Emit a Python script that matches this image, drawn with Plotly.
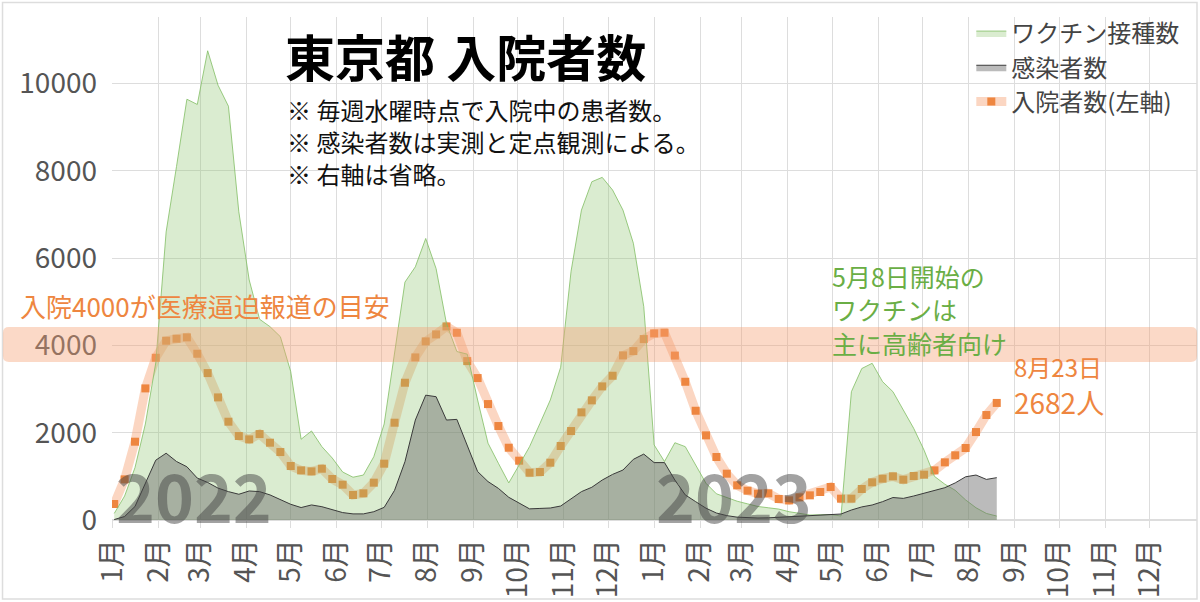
import datetime
import plotly.graph_objects as go

# weekly points (Sunday-dated as plotted in the reference)
start = datetime.date(2022, 1, 2)
weeks = [start + datetime.timedelta(days=7 * i) for i in range(86)]

# 入院者数 (left axis)
hospitalized = [366, 931, 1794, 3015, 3717, 4107, 4153, 4184, 3809, 3366,
                2809, 2252, 1924, 1847, 1969, 1771, 1557, 1237, 1137, 1114,
                1175, 939, 809, 573, 611, 855, 1290, 2229, 3145, 3725,
                4092, 4252, 4435, 4290, 3641, 3252, 2656, 2153, 1656, 1359,
                1084, 1099, 1313, 1695, 2038, 2466, 2741, 3061, 3305, 3771,
                3870, 4145, 4275, 4290, 3767, 3167, 2503, 1939, 1443, 1061,
                794, 672, 603, 611, 481, 450, 519, 565, 641, 756,
                489, 489, 710, 863, 947, 1000, 924, 1008, 1038, 1137,
                1321, 1482, 1649, 2015, 2405, 2682]

# 感染者数 (right axis, hidden; relative scale)
infections = [10, 80, 310, 840, 1370, 1530, 1340, 1220, 960, 860,
              730, 650, 590, 665, 650, 575, 460, 360, 285, 345,
              305, 230, 170, 140, 140, 190, 290, 680, 1335, 2290,
              2860, 2825, 2290, 2305, 1720, 1110, 880, 725, 520, 380,
              255, 265, 275, 320, 495, 650, 750, 915, 1045, 1145,
              1390, 1510, 1315, 1315, 915, 575, 420, 270, 160, 100,
              65, 50, 46, 50, 60, 75, 90, 100, 115, 125,
              137, 229, 300, 344, 420, 515, 495, 550, 610, 680,
              740, 850, 990, 1030, 930, 970]

# ワクチン接種数 (right axis, hidden; relative scale)
vaccinations = [150, 550, 1200, 2200, 3600, 6600, 8100, 9640, 9520, 10750,
                9960, 9480, 7060, 5500, 4600, 4430, 4200, 3400, 1850, 2040,
                1680, 1420, 1100, 980, 1030, 1450, 2200, 3850, 5450, 5800,
                6450, 5760, 4500, 3860, 3800, 2750, 1760, 1300, 850, 1260,
                1680, 2210, 2750, 3500, 5700, 7100, 7750, 7850, 7560, 7100,
                6340, 4890, 1720, 1340, 1770, 1680, 1250, 840, 600, 510,
                430, 370, 310, 280, 250, 190, 150, 115, 120, 125,
                92, 2940, 3470, 3590, 3170, 2940, 2520, 2100, 1600, 1000,
                820, 680, 460, 280, 150, 90]

month_ticks = [datetime.date(2022 + m // 12, m % 12 + 1, 1) for m in range(24)]
month_labels = [f"{d.month}月" for d in month_ticks]

FONT = "Noto Sans CJK JP"
ORANGE = "#EE8640"
GREEN_TXT = "#6AAE45"

fig = go.Figure()

fig.add_trace(go.Scatter(
    x=weeks, y=vaccinations, name="ワクチン接種数", yaxis="y2",
    mode="lines", fill="tozeroy",
    line=dict(color="rgba(130,190,100,0.8)", width=1),
    fillcolor="rgba(140,195,110,0.32)"))

fig.add_trace(go.Scatter(
    x=weeks, y=infections, name="感染者数", yaxis="y2",
    mode="lines", fill="tozeroy",
    line=dict(color="#3a3a3a", width=1),
    fillcolor="rgba(105,105,105,0.45)"))

fig.add_trace(go.Scatter(
    x=weeks, y=hospitalized, name="入院者数(左軸)",
    mode="lines+markers",
    line=dict(color="rgba(246,165,120,0.45)", width=9),
    marker=dict(symbol="square", size=8, color=ORANGE)))

# 4000 band with rounded corners (paper x, data y)
x0, x1, y0, y1 = -0.1005, 1.0, 3620, 4420
rx, ry = 6 / 1085, 137
band = (f"M {x0 + rx},{y0} L {x1 - rx},{y0} Q {x1},{y0} {x1},{y0 + ry} "
        f"L {x1},{y1 - ry} Q {x1},{y1} {x1 - rx},{y1} L {x0 + rx},{y1} "
        f"Q {x0},{y1} {x0},{y1 - ry} L {x0},{y0 + ry} Q {x0},{y0} {x0 + rx},{y0} Z")
fig.add_shape(type="path", path=band, xref="paper", yref="y",
              fillcolor="rgba(244,160,115,0.4)", line=dict(width=0), layer="above")

# outer frame
fig.add_shape(type="rect", xref="paper", yref="paper",
              x0=-0.1009, x1=1.0, y0=-0.157, y1=1.029,
              line=dict(color="#dddddd", width=1.5), layer="below")


def note(text, x, y, size, color, anchor="left"):
    fig.add_annotation(text=text, x=x, y=y, xref="paper", yref="paper",
                       showarrow=False, xanchor=anchor, yanchor="middle",
                       align="left", font=dict(family=FONT, size=size, color=color))


note("<b>東京都 入院者数</b>", 0.1576, 0.925, 50, "#000000")
note("※ 毎週水曜時点で入院中の患者数。", 0.1594, 0.817, 24, "#111111")
note("※ 感染者数は実測と定点観測による。", 0.1594, 0.7515, 24, "#111111")
note("※ 右軸は省略。", 0.1594, 0.6898, 24, "#111111")
note("入院4000が医療逼迫報道の目安", -0.0866, 0.4274, 26, ORANGE)
note("5月8日開始の", 0.6618, 0.4845, 25, GREEN_TXT)
note("ワクチンは", 0.6618, 0.4185, 25, GREEN_TXT)
note("主に高齢者向け", 0.6618, 0.3525, 25, GREEN_TXT)
note("8月23日", 0.8295, 0.306, 24, ORANGE)
note("2682人", 0.8295, 0.2350, 28, ORANGE)
note("<b>2022</b>", 0.0756, 0.0517, 66, "rgba(70,70,70,0.5)", anchor="center")
note("<b>2023</b>", 0.5733, 0.0517, 66, "rgba(70,70,70,0.5)", anchor="center")

fig.update_layout(
    width=1200, height=602,
    margin=dict(l=112, r=3, t=17, b=82),
    paper_bgcolor="white", plot_bgcolor="white",
    font=dict(family=FONT, color="#555555"),
    showlegend=True,
    legend=dict(x=0.792, xanchor="left", y=1.012, yanchor="top",
                bgcolor="rgba(0,0,0,0)", font=dict(size=24, color="#444444"),
                tracegroupgap=0),
    xaxis=dict(range=["2021-12-31 12:00", "2024-01-02"], tickvals=month_ticks,
               ticktext=month_labels, tickangle=-90, tickfont=dict(size=28),
               showgrid=True, gridcolor="#dddddd", ticks="outside",
               ticklen=7, tickcolor="#dddddd", showline=False, zeroline=False),
    yaxis=dict(range=[0, 11524], dtick=2000, tickformat="d", tickfont=dict(size=28),
               ticklabelstandoff=14,
               showgrid=True, gridcolor="#dddddd", zeroline=True,
               zerolinecolor="#dddddd", ticks="", showline=False),
    yaxis2=dict(range=[0, 11524], overlaying="y", side="right", visible=False),
)

# page body margin off so the figure sits at the window's top-left corner
fig.write_html("out.html", config={"displayModeBar": False},
               post_script="document.body.style.margin='0';")
